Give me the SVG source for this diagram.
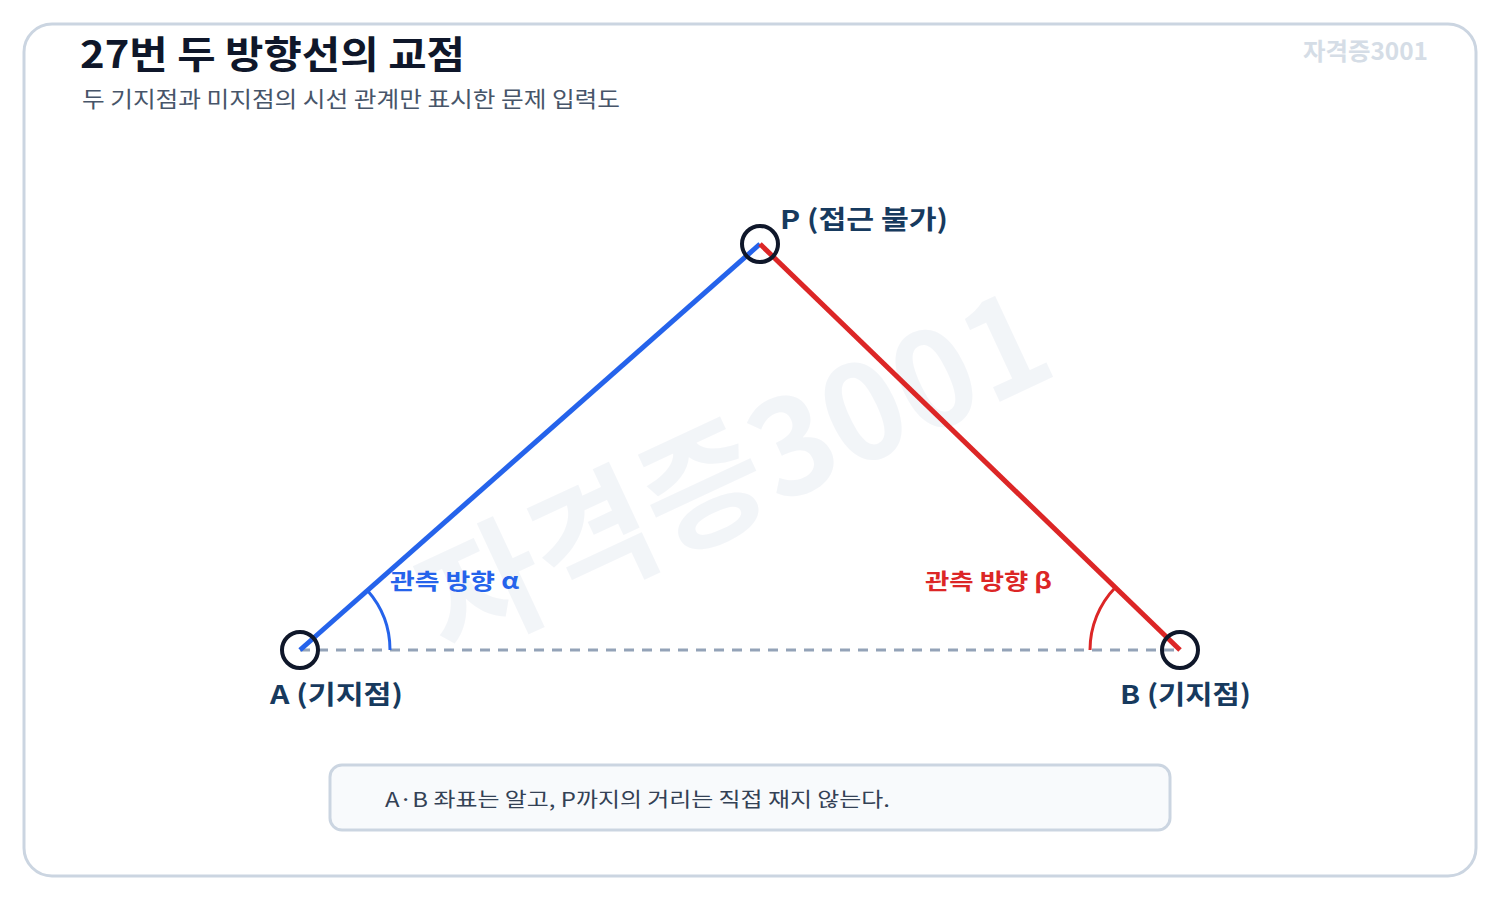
<svg xmlns="http://www.w3.org/2000/svg" width="1500" height="900" viewBox="0 0 1500 900">
<style>
text{font-family:"Noto Sans CJK KR","Noto Sans",sans-serif}
.title{font-size:38px;font-weight:700;fill:#0f172a}
.sub{font-size:22px;fill:#475569}
.pt{fill:none;stroke:#0f172a;stroke-width:4}
.lbl{font-size:26px;font-weight:700;fill:#173a5e}
.ang{font-size:22px;font-weight:700}
</style>
<rect x="24" y="24" width="1452" height="852" rx="28" fill="#ffffff" stroke="#cbd5e1" stroke-width="3"/>
<text class="title" x="80" y="68" textLength="385" lengthAdjust="spacingAndGlyphs">27번 두 방향선의 교점</text>
<text class="sub" x="82" y="107" textLength="538" lengthAdjust="spacingAndGlyphs">두 기지점과 미지점의 시선 관계만 표시한 문제 입력도</text>
<text x="1428" y="60" text-anchor="end" font-size="24" font-weight="700" fill="#cbd5e1" opacity="0.8" textLength="125" lengthAdjust="spacingAndGlyphs">자격증3001</text>
<text x="730" y="464" text-anchor="middle" dominant-baseline="central" font-size="132" font-weight="700" fill="#e2e8f0" opacity="0.42" transform="rotate(-25 730 464)">자격증3001</text>
<g id="connectors">
<line x1="300" y1="650" x2="1180" y2="650" stroke="#94a3b8" stroke-width="3" stroke-dasharray="10 8"/>
<line x1="300" y1="650" x2="760" y2="244" stroke="#2563eb" stroke-width="5"/>
<line x1="760" y1="244" x2="1180" y2="650" stroke="#dc2626" stroke-width="5"/>
<path d="M390 650 A90 90 0 0 0 367.5 590.5" fill="none" stroke="#2563eb" stroke-width="3"/>
<path d="M1090 650 A90 90 0 0 1 1115.3 587.5" fill="none" stroke="#dc2626" stroke-width="3"/>
<text class="ang" x="390" y="589" fill="#2563eb" textLength="129" lengthAdjust="spacingAndGlyphs">관측 방향 α</text>
<text class="ang" x="925" y="589" fill="#dc2626" textLength="127" lengthAdjust="spacingAndGlyphs">관측 방향 β</text>
</g>
<g id="node-A">
<circle class="pt" cx="300" cy="650" r="18"/>
<text class="lbl" x="270" y="704" textLength="133" lengthAdjust="spacingAndGlyphs">A (기지점)</text>
</g>
<g id="node-P">
<circle class="pt" cx="760" cy="244" r="18"/>
<text class="lbl" x="780" y="229" textLength="168" lengthAdjust="spacingAndGlyphs">P (접근 불가)</text>
</g>
<g id="node-B">
<circle class="pt" cx="1180" cy="650" r="18"/>
<text class="lbl" x="1120" y="704" textLength="131" lengthAdjust="spacingAndGlyphs">B (기지점)</text>
</g>
<g id="note">
<rect x="330" y="765" width="840" height="65" rx="12" fill="#f8fafc" stroke="#cbd5e1" stroke-width="3"/>
<text x="385" y="807" font-size="20" fill="#334155" textLength="505" lengthAdjust="spacingAndGlyphs">A·B 좌표는 알고, P까지의 거리는 직접 재지 않는다.</text>
</g>
</svg>
